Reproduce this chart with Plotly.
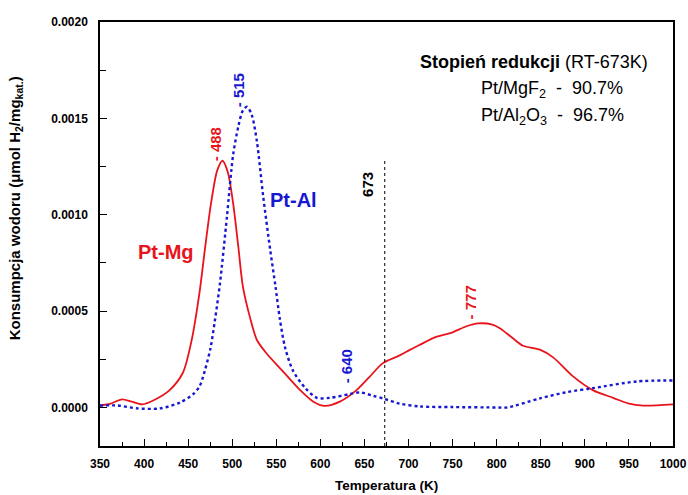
import plotly.graph_objects as go

# ---- data ----
temp_mg = [350, 362, 375, 386, 398, 412, 429, 444, 454, 463, 469, 476, 483, 489, 495, 501, 507,
           512, 520, 528, 539, 557, 577, 592, 605, 622, 641, 656, 671, 690, 702, 715, 728, 750,
           765, 779, 795, 804, 818, 830, 849, 864, 887, 909, 932, 950, 966, 1000]
h2_mg = [0.00001, 0.00002, 0.000042, 0.00003, 0.000016, 0.00004, 0.00009, 0.00018, 0.00035,
         0.00060, 0.00082, 0.00106, 0.00123, 0.00128, 0.00122, 0.00106, 0.00083, 0.00063,
         0.00047, 0.00035, 0.00028, 0.00019, 0.00009, 0.00003, 0.000008, 0.00003, 0.00009,
         0.00016, 0.00023, 0.00027, 0.00030, 0.00033, 0.00036, 0.00039, 0.00042, 0.000436,
         0.00043, 0.00041, 0.00036, 0.00032, 0.00030, 0.00026, 0.00016, 0.00009, 0.00005,
         0.00002, 0.00001, 0.000016]

temp_al = [350, 370, 392, 418, 441, 456, 463, 467, 475, 478, 486, 494, 501, 507, 512, 516.6,
           522, 528, 535, 543, 549, 554, 560, 569, 583, 596, 611, 634, 645, 660, 671, 690, 713,
           750, 800, 812, 849, 880, 909, 959, 1000]
h2_al = [0.00001, 0.00001, -0.000005, -0.000005, 0.000026, 0.00007, 0.00011, 0.00016, 0.00030,
         0.00038, 0.00064, 0.00099, 0.00131, 0.00146, 0.00154, 0.00156, 0.00152, 0.00138,
         0.00110, 0.00082, 0.00063, 0.00046, 0.00031, 0.00019, 0.00010, 0.00005, 0.00005,
         0.00007, 0.000078, 0.00006, 0.000047, 0.00002, 0.000005, 0.000002, 0.0, 0.0,
         0.000047, 0.00008, 0.0001, 0.000135, 0.00014]

limit_x = [673, 673]
limit_y = [-0.0002, 0.00128]

peak_labels = ["- 488", "- 515", "673", "- 640", "- 777"]
peak_x = [480.5, 506.6, 654, 629, 769.7]
peak_y = [0.001366, 0.001646, 0.00116, 0.000213, 0.000545]

x_ticks = list(range(350, 1001, 50))
y_ticks = [0.0, 0.0005, 0.0010, 0.0015, 0.0020]

RED = "#e8141b"
BLUE = "#1717d2"
FONT = "Liberation Sans, Arial, sans-serif"

fig = go.Figure()
fig.add_trace(go.Scatter(x=temp_mg, y=h2_mg, mode="lines", line=dict(color=RED, width=1.8, shape="spline", smoothing=0.8),
                         showlegend=False, hoverinfo="skip"))
fig.add_trace(go.Scatter(x=temp_al, y=h2_al, mode="lines", line=dict(color=BLUE, width=2.4, dash="dot", shape="spline", smoothing=0.8),
                         showlegend=False, hoverinfo="skip"))
fig.add_trace(go.Scatter(x=limit_x, y=limit_y, mode="lines", line=dict(color="black", width=1, dash="dot"),
                         showlegend=False, hoverinfo="skip"))

label_colors = [RED, BLUE, "black", BLUE, RED]
for t, xv, yv, c in zip(peak_labels, peak_x, peak_y, label_colors):
    fig.add_annotation(x=xv, y=yv, xref="x", yref="y", text=t, showarrow=False, textangle=-90,
                       xanchor="center", yanchor="middle",
                       font=dict(family=FONT, size=15, color=c, weight="bold"))

fig.add_annotation(x=425.3, y=0.000805, xref="x", yref="y", text="Pt-Mg", showarrow=False,
                   font=dict(family=FONT, size=20, color=RED, weight="bold"))
fig.add_annotation(x=570, y=0.001075, xref="x", yref="y", text="Pt-Al", showarrow=False,
                   font=dict(family=FONT, size=20, color=BLUE, weight="bold"))

nb = "\u00a0"
fig.add_annotation(x=0.96, y=0.906, xref="paper", yref="paper", xanchor="right", yanchor="middle",
                   text="<b>Stopień redukcji</b> (RT-673K)", showarrow=False,
                   font=dict(family=FONT, size=18, color="black"))
fig.add_annotation(x=0.661, y=0.840, xref="paper", yref="paper", xanchor="left", yanchor="middle",
                   text=f"Pt/MgF<sub>2</sub>{nb}{nb}-{nb}{nb}90.7%", showarrow=False,
                   font=dict(family=FONT, size=18, color="black"))
fig.add_annotation(x=0.661, y=0.776, xref="paper", yref="paper", xanchor="left", yanchor="middle",
                   text=f"Pt/Al<sub>2</sub>O<sub>3</sub>{nb}{nb}-{nb}{nb}96.7%", showarrow=False,
                   font=dict(family=FONT, size=18, color="black"))

fig.add_annotation(x=0.5, y=-0.094, xref="paper", yref="paper", xanchor="center", yanchor="middle",
                   text="Temperatura (K)", showarrow=False,
                   font=dict(family=FONT, size=13.5, color="black", weight="bold"))
fig.add_annotation(x=-0.148, y=0.561, xref="paper", yref="paper", xanchor="center", yanchor="middle",
                   text="Konsumpcja wodoru (μmol H<sub>2</sub>/mg<sub>kat.</sub>)", showarrow=False, textangle=-90,
                   font=dict(family=FONT, size=15, color="black", weight="bold"))

axis_common = dict(showline=True, linecolor="black", linewidth=1.5, mirror=True, showgrid=False, zeroline=False,
                   automargin=False,
                   ticks="inside", ticklen=7, tickwidth=1.2, tickcolor="black",
                   tickfont=dict(family=FONT, size=12, color="black", weight="bold"))
fig.update_xaxes(range=[350, 1000], tickvals=x_ticks, ticktext=[str(v) for v in x_ticks],
                 minor=dict(dtick=25, ticks="inside", ticklen=4, tickcolor="black", showgrid=False),
                 ticklabelstandoff=6, **axis_common)
fig.update_yaxes(range=[-0.0002, 0.0020], tickvals=y_ticks, ticktext=[f"{v:.4f}" for v in y_ticks],
                 minor=dict(tick0=0, dtick=0.00025, ticks="inside", ticklen=6, tickcolor="black", showgrid=False),
                 ticklabelstandoff=8, **axis_common)

fig.update_layout(width=688, height=495, margin=dict(l=100, r=15, t=22, b=49),
                  plot_bgcolor="white", paper_bgcolor="white", showlegend=False)

fig.write_html("out.html", config={"displayModeBar": False},
               post_script="document.body.style.margin='0';document.body.style.padding='0';")
